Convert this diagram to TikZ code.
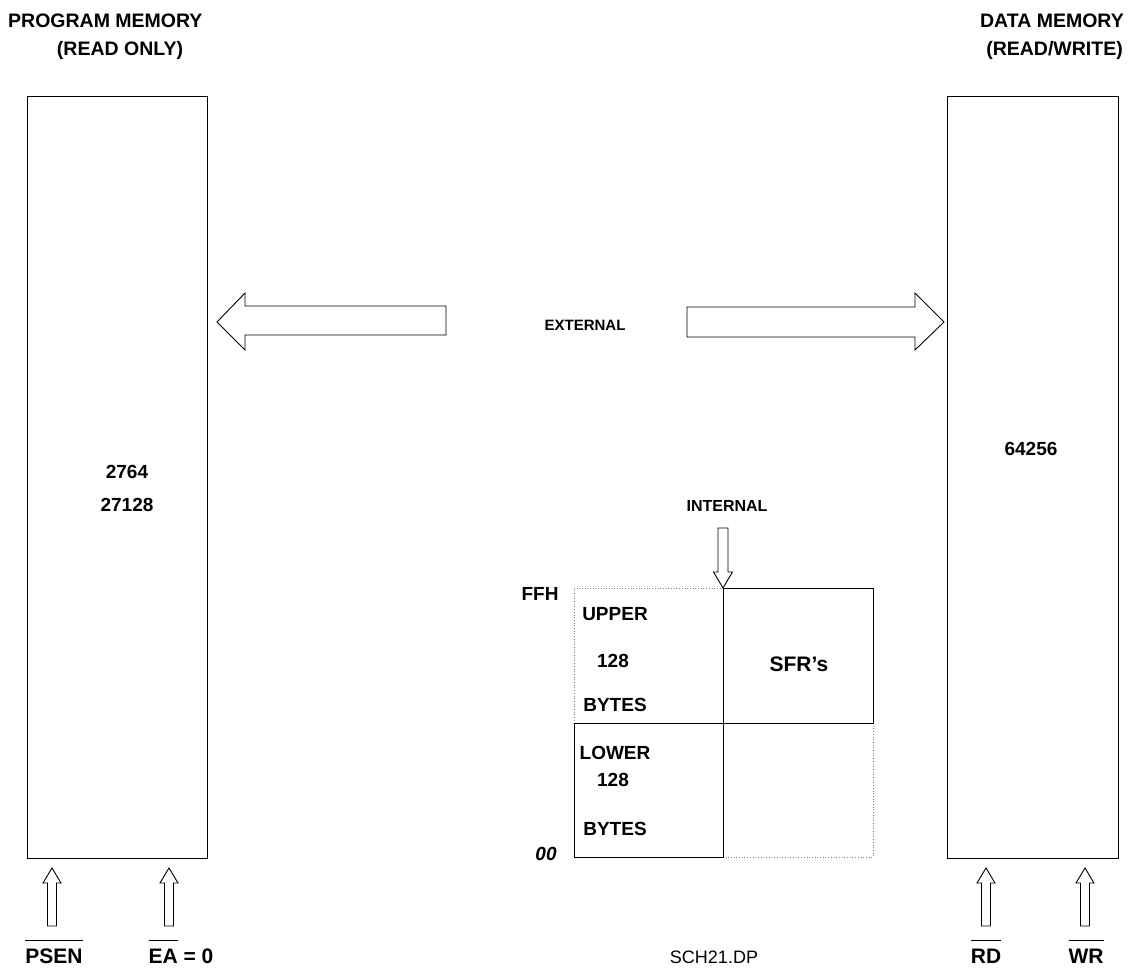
\documentclass[tikz,border=0pt]{standalone}
\usepackage{fontspec}
\setmainfont{Liberation Sans}
\begin{document}
\begin{tikzpicture}[x=1pt,y=-1pt,
  lbl/.style={font=\fontsize{19}{21}\selectfont\bfseries, inner sep=0pt},
  ttl/.style={font=\fontsize{19.5}{22}\selectfont\bfseries, inner sep=0pt},
  bot/.style={font=\fontsize{21}{23}\selectfont\bfseries, inner sep=0pt},
  small/.style={font=\fontsize{15}{17}\selectfont\bfseries, inner sep=0pt},
  box/.style={draw, line width=0.9pt},
  blk/.style={draw, line width=0.9pt, line join=miter, fill=white},
  dots/.style={draw=gray, dotted, line width=0.7pt}]
\useasboundingbox (0,0) rectangle (1130,971);
% memory boxes
\draw[box] (27,96) rectangle (207,858);
\draw[box] (947,96) rectangle (1118,858);
% titles
\node[ttl, anchor=west] (t1) at (8,21) {PROGRAM MEMORY};
\node[ttl] (t2) at (120,50) {(READ ONLY)};
\node[ttl, anchor=east] (t3) at (1124,21) {DATA MEMORY};
\node[ttl, anchor=east] (t4) at (1123,50) {(READ/WRITE)};
\node[lbl] (n1) at (127,472) {2764};
\node[lbl] (n2) at (127,505) {27128};
\node[lbl] (n3) at (1031,449) {64256};
% external arrows
\draw[blk] (217,322) -- (245,293) -- (245,306) -- (446,306) -- (446,335) -- (245,335) -- (245,350) -- cycle;
\draw[blk] (944,322) -- (915,293) -- (915,307) -- (687,307) -- (687,337) -- (915,337) -- (915,350) -- cycle;
\node[small] (ext) at (585,325) {EXTERNAL};
% internal
\node[small, font=\fontsize{16}{18}\selectfont\bfseries] (int) at (727,506) {INTERNAL};
\draw[blk] (723,588) -- (713.5,572) -- (718,572) -- (718,528) -- (728,528) -- (728,572) -- (732.5,572) -- cycle;
% internal ram grid
\draw[dots] (723,588) -- (574,588) -- (574,723);
\draw[dots] (873,723) -- (873,857) -- (723,857);
\draw[box] (723,588) rectangle (873,723);
\draw[box] (574,723) rectangle (723,857);
\node[lbl] (ffh) at (540,594) {FFH};
\node[lbl] (zz) at (546,854) {\itshape 00};
\node[lbl] (u1) at (615,614) {UPPER};
\node[lbl] (u2) at (613,661) {128};
\node[lbl] (u3) at (615,705) {BYTES};
\node[lbl] (l1) at (615,753) {LOWER};
\node[lbl] (l2) at (613,780) {128};
\node[lbl] (l3) at (615,829) {BYTES};
\node[lbl, font=\fontsize{21}{23}\selectfont\bfseries] (sfr) at (799,664) {SFR's};
% control arrows
\foreach \n/\cx in {a/52,b/169,c/986,d/1085}{
  \draw[blk] (\cx,868) -- (\cx+9,883) -- (\cx+4.5,883) -- (\cx+4.5,926) -- (\cx-4.5,926) -- (\cx-4.5,883) -- (\cx-9,883) -- cycle;
}
\node[bot, anchor=base] (psen) at (54,963) {$\overline{\mbox{\rule{0pt}{21pt}PSEN}}$};
\node[bot, anchor=base] (ea) at (181,963) {$\overline{\mbox{\rule{0pt}{21pt}EA}}$ = 0};
\node[lbl, font=\fontsize{18}{20}\selectfont, anchor=base] (sch) at (714,963) {SCH21.DP};
\node[bot, anchor=base] (rd) at (986,963) {$\overline{\mbox{\rule{0pt}{21pt}RD}}$};
\node[bot, anchor=base] (wr) at (1086,963) {$\overline{\mbox{\rule{0pt}{21pt}WR}}$};
\end{tikzpicture}
\end{document}
